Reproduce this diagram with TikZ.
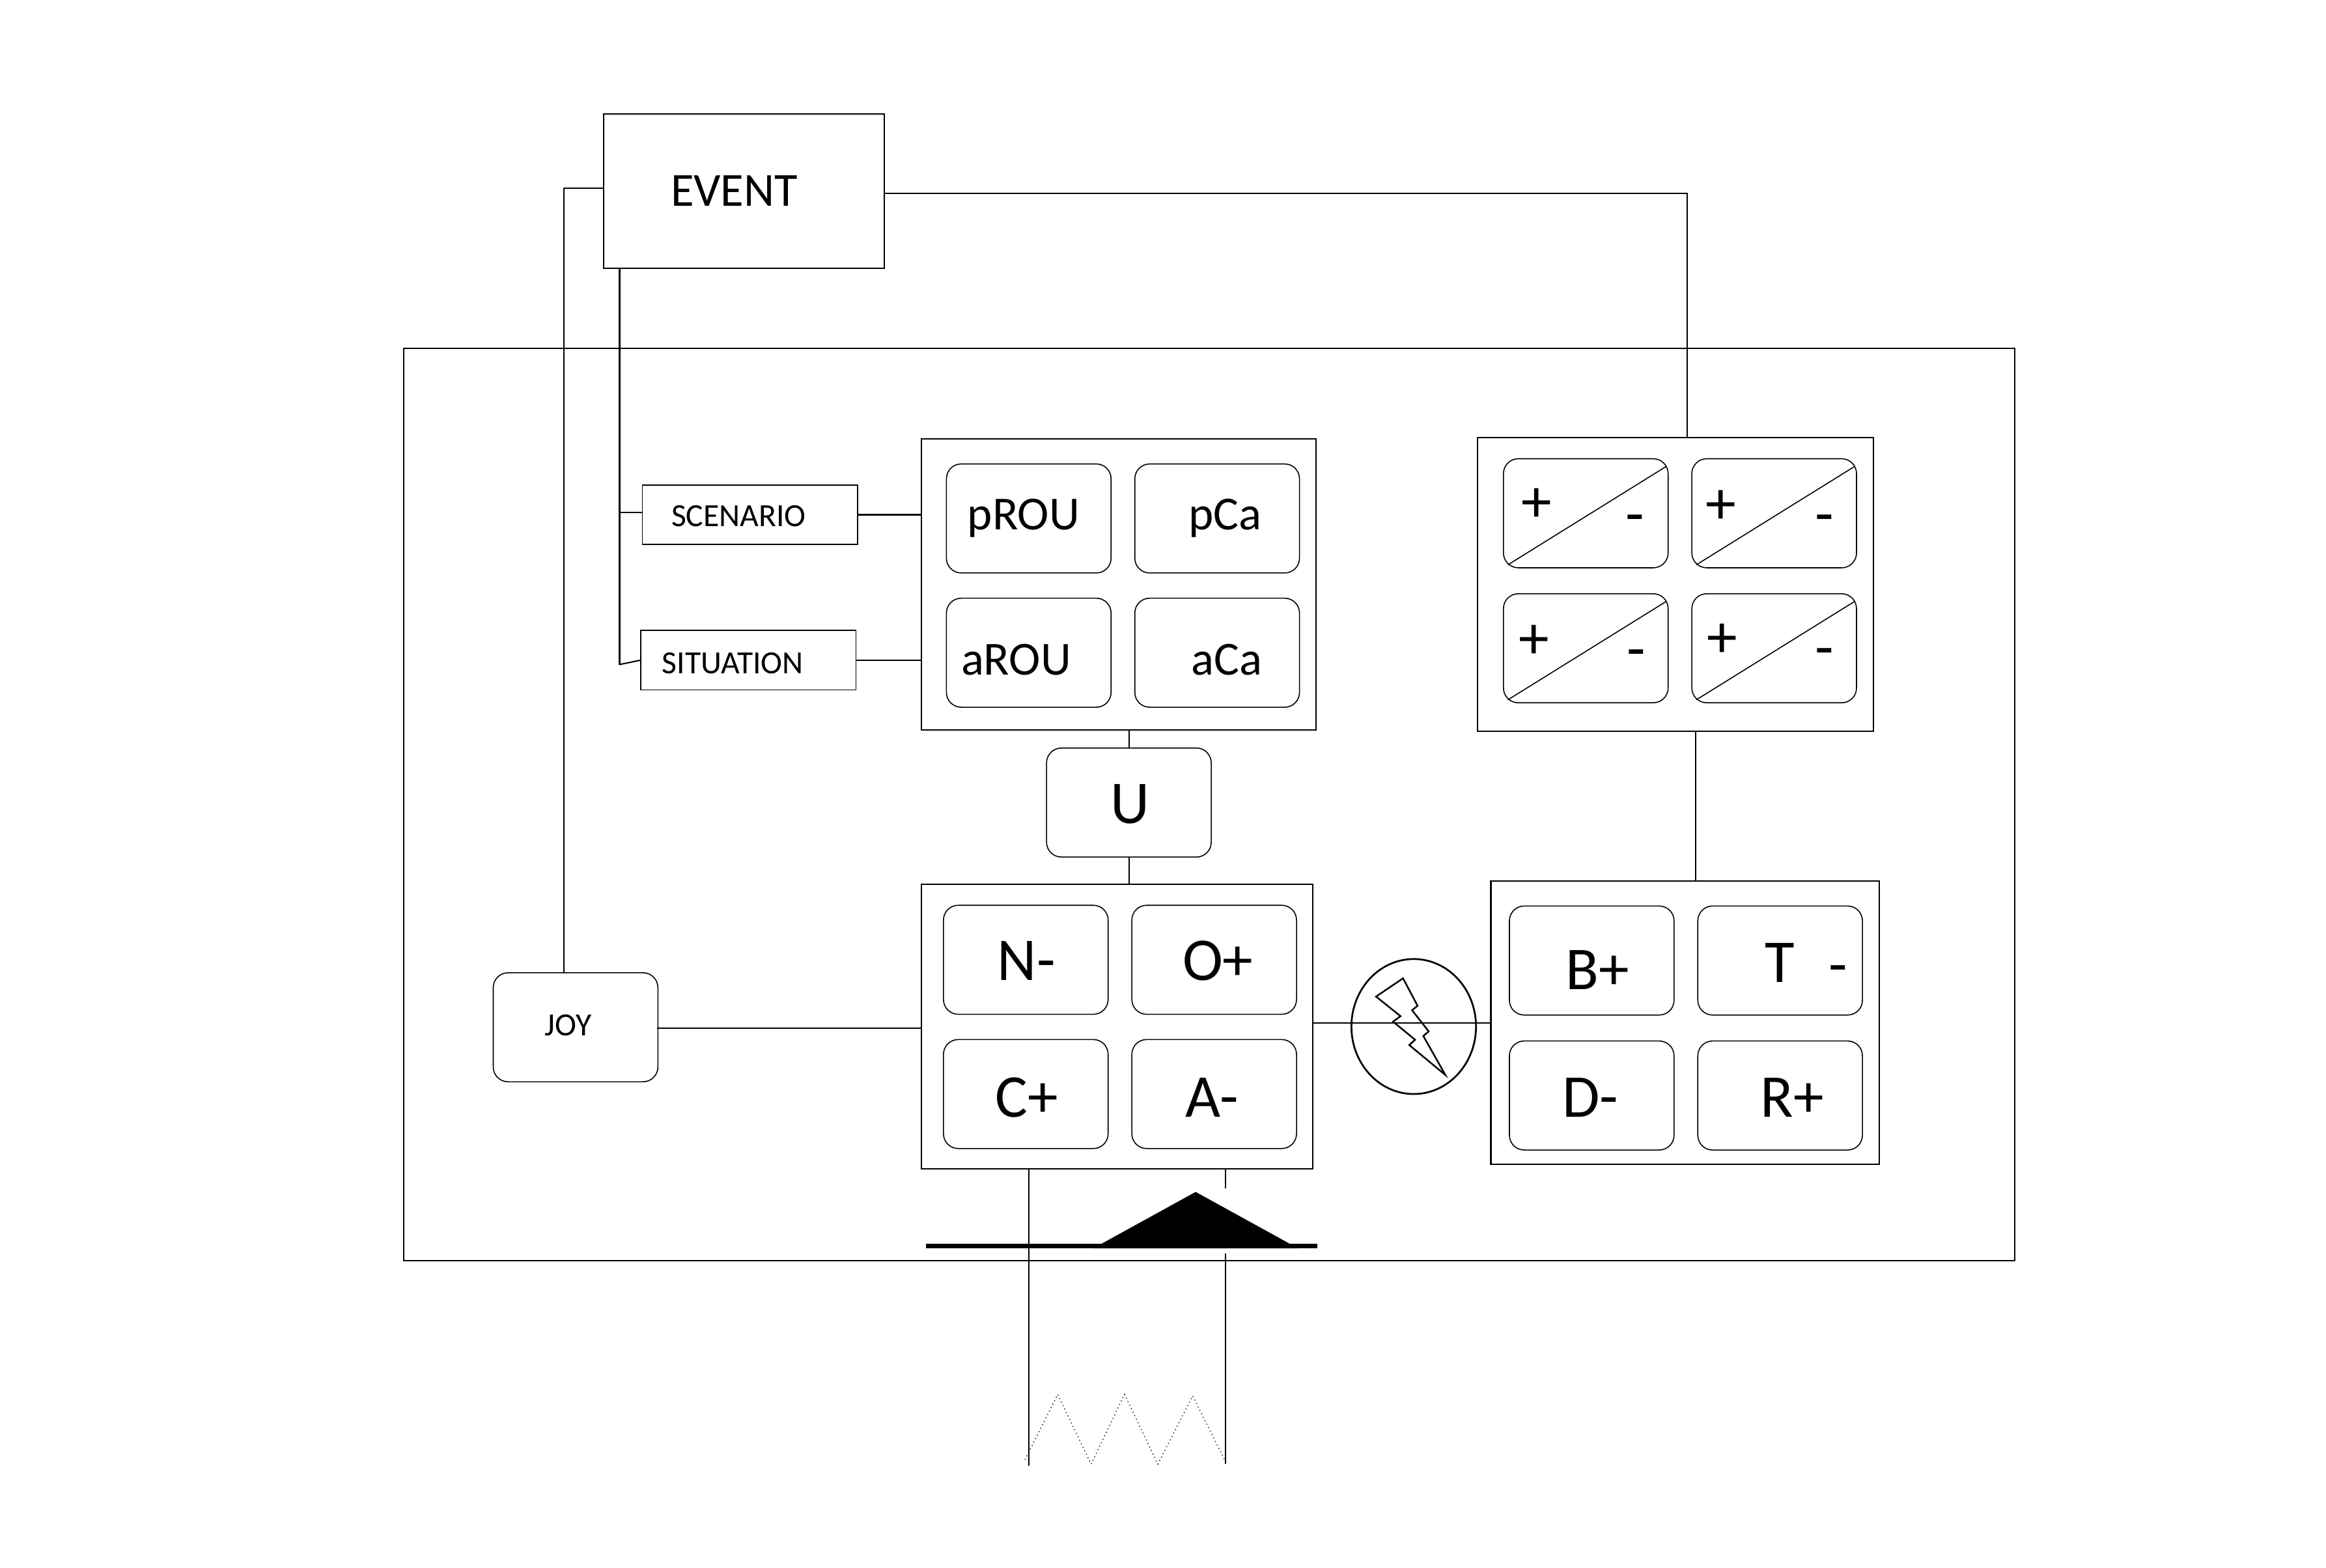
\documentclass[tikz,border=0pt]{standalone}
\usepackage{fontspec}
\setmainfont{Carlito}
\usetikzlibrary{shapes.geometric}

\begin{document}
\begin{tikzpicture}[x=0.5pt, y=-0.5pt, line width=0.45pt,
	box/.style={draw, rectangle, inner sep=0pt, outer sep=0pt},
	card/.style={box, rounded corners=5pt, line width=0.35pt, minimum width=55.5pt, minimum height=36.75pt},
	tagbox/.style={box, line width=0.35pt, minimum width=72.5pt, minimum height=20pt},
	lab/.style={anchor=base, inner sep=0pt, font=\fontsize{16}{18}\selectfont},
	labs/.style={anchor=base, inner sep=0pt, font=\fontsize{10.9}{12}\selectfont},
	labl/.style={anchor=base, inner sep=0pt, font=\fontsize{20.5}{22}\selectfont}]
\useasboundingbox (0,0) rectangle (1568,1057);

\node[box, minimum width=543pt, minimum height=307.5pt] (frame) at (815,542.5) {};
\node[box, minimum width=94.5pt, minimum height=52pt] (event) at (501.5,129) {};
\node[lab] (eventtxt) at (495,139) {EVENT};

\node[tagbox] (scen) at (505.5,347) {};
\node[labs] (scentxt) at (498,355) {SCENARIO};
\node[tagbox] (situ) at (504.5,445) {};
\node[labs] (situtxt) at (494,454) {SITUATION};

\node[box, minimum width=133pt, minimum height=98pt] (rolep) at (754,394) {};
\node[card] (prou) at (693.5,349.5) {};
\node[lab] (proutxt) at (690,357) {pROU};
\node[card] (pca) at (820.5,349.5) {};
\node[lab] (pcatxt) at (826,357) {pCa};
\node[card] (arou) at (693.5,440) {};
\node[lab] (aroutxt) at (685,455) {aROU};
\node[card] (aca) at (820.5,440) {};
\node[lab] (acatxt) at (827,455) {aCa};

\node[card] (uctl) at (761,541) {};
\node[labl] (utxt) at (762,555) {U};

\node[box, minimum width=132pt, minimum height=96pt] (lowp) at (753,692) {};
\node[card] (nminus) at (691.5,647) {};
\node[labl] (nminustxt) at (692,661) {N-};
\node[card] (oplus) at (818.5,647) {};
\node[labl] (oplustxt) at (821,661) {O+};
\node[card] (cplus) at (691.5,737.5) {};
\node[labl] (cplustxt) at (692,753) {C+};
\node[card] (aminus) at (818.5,737.5) {};
\node[labl] (aminustxt) at (817,753) {A-};

\node[box, minimum width=131pt, minimum height=95.5pt] (rlow) at (1136,689.5) {};
\node[card] (bplus) at (1073,647.5) {};
\node[labl] (bplustxt) at (1077,667) {B+};
\node[card] (tminus) at (1200,647.5) {};
\node[labl] (ttxt) at (1200,662) {T};
\node[labl] (tmtxt) at (1239,664) {-};
\node[card] (dminus) at (1073,738.5) {};
\node[labl] (dminustxt) at (1072,753) {D-};
\node[card] (rplus) at (1200,738.5) {};
\node[labl] (rplustxt) at (1208,753) {R+};

\node[box, minimum width=133.5pt, minimum height=99pt] (rupp) at (1129.5,394) {};
\node[card] (ca) at (1069,346) {};
\node[card] (cb) at (1196,346) {};
\node[card] (cc) at (1069,437) {};
\node[card] (cd) at (1196,437) {};
\draw[line width=0.35pt] ([shift={(3,-2)}]ca.south west) -- ([shift={(-1,5)}]ca.north east);
\draw[line width=0.35pt] ([shift={(3,-2)}]cb.south west) -- ([shift={(-1,5)}]cb.north east);
\draw[line width=0.35pt] ([shift={(3,-2)}]cc.south west) -- ([shift={(-1,5)}]cc.north east);
\draw[line width=0.35pt] ([shift={(3,-2)}]cd.south west) -- ([shift={(-1,5)}]cd.north east);
\node[labl] (pa) at (1036,352) {+};
\node[labl] (ma) at (1102,360) {-};
\node[labl] (pb) at (1160,353) {+};
\node[labl] (mb) at (1230,360) {-};
\node[labl] (pc) at (1034,444) {+};
\node[labl] (mc) at (1103,451) {-};
\node[labl] (pd) at (1161,443) {+};
\node[labl] (md) at (1230,450) {-};

\node[card] (joy) at (388,692.5) {};
\node[labs] (joytxt) at (383,698) {JOY};

\node[draw, ellipse, inner sep=0pt, outer sep=0pt, line width=0.6pt, minimum width=42pt, minimum height=45.5pt] (spark) at (953,692) {};
\draw[line width=0.55pt] (945.8,659.5) -- (955.6,678) -- (951.9,681) -- (963.1,695.3) -- (959.5,698.4) -- (974.3,724.6) -- (950,704.5) -- (953.9,700.9) -- (939.1,688.7) -- (944.1,685) -- (927.6,671.8) -- cycle;

\coordinate (eventl) at (407,127);
\coordinate (eventr) at (596,130.5);
\coordinate (joytop) at (380,656);
\coordinate (ruppin) at (1137.5,295);
\coordinate (drop) at (417.5,181);
\coordinate (dropa) at (417.5,345.5);
\coordinate (dropb) at (417.5,448);
\coordinate (joyout) at (443,693);
\coordinate (rlink) at (1143,545);
\coordinate (legl) at (693.5,988);
\coordinate (legra) at (826,801);
\coordinate (legrb) at (826,845);
\coordinate (legrc) at (826,987);

\draw (eventl) -| (joytop);
\draw (eventr) -| (ruppin);
\draw[line width=0.7pt] (drop) -- (dropb);
\draw (dropa) -- (dropa -| scen.west);
\draw (dropb) -- (situ.west);
\draw (scen.east) -- (scen.east -| rolep.west);
\draw (situ.east) -- (situ.east -| rolep.west);
\draw (uctl.north |- rolep.south) -- (uctl.north);
\draw (uctl.south) -- (uctl.south |- lowp.north);
\draw (rlink |- rupp.south) -- (rlink |- rlow.north);
\draw (joyout) -- (joyout -| lowp.west);
\draw (rlow.west -| lowp.east) -- (rlow.west);
\draw (legl |- lowp.south) -- (legl);
\draw (legra |- lowp.south) -- (legra);
\draw (legrb) -- (legrc);

\draw[line width=1.5pt] (624,840) -- (888,840);
\fill (737,841.5) -- (806,803.5) -- (875,841.5) -- cycle;
\draw[line width=0.3pt, densely dotted] (691,984) -- (713,940) -- (735.5,987) -- (758,940) -- (780.5,987) -- (804,941) -- (826,985);
\end{tikzpicture}
\end{document}
